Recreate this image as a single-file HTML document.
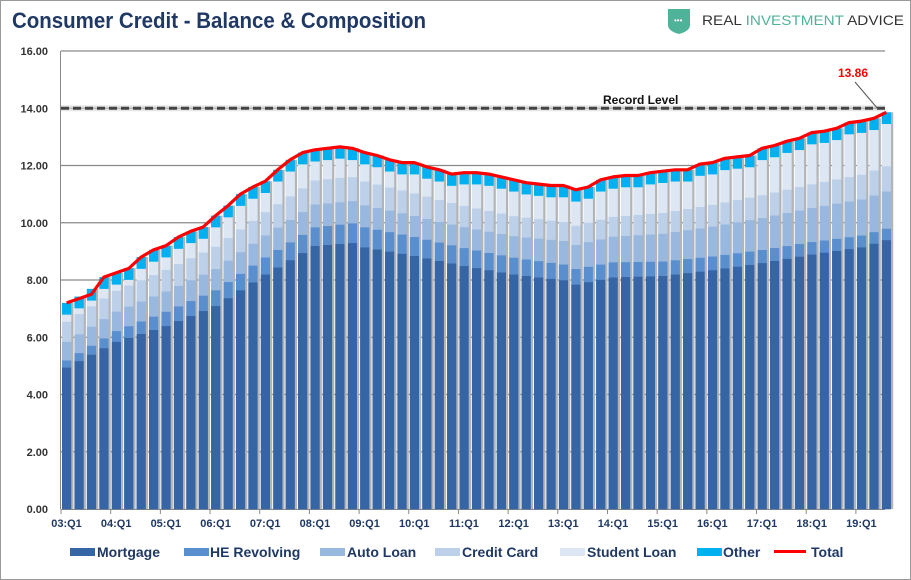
<!DOCTYPE html>
<html><head><meta charset="utf-8"><style>
body{margin:0;background:#fff}
svg{display:block;font-family:"Liberation Sans",sans-serif}
</style></head><body>
<svg id="c" width="911" height="580" xmlns="http://www.w3.org/2000/svg">
<rect x="0.5" y="0.5" width="910" height="579" fill="#fff" stroke="#999"/>
<text x="12" y="28" font-size="22" font-weight="bold" fill="#1f3864" textLength="414" lengthAdjust="spacingAndGlyphs">Consumer Credit - Balance &amp; Composition</text>
<path d="M668 9 L690 9 L690 25 Q690 31 679 34 Q668 31 668 25 Z" fill="#4fb39a"/>
<text x="674" y="23" font-size="8" fill="#fff">•••</text>
<text x="702" y="25" font-size="14" fill="#333" textLength="202" lengthAdjust="spacingAndGlyphs">REAL <tspan fill="#4fb39a">INVESTMENT</tspan> ADVICE</text>
<g id="grid"></g>
<g id="bars"></g>
<g id="ov"></g>
</svg>
<script>
const NS="http://www.w3.org/2000/svg";
function el(p,t,a,txt){const e=document.createElementNS(NS,t);for(const k in a)e.setAttribute(k,a[k]);if(txt!==undefined)e.textContent=txt;p.appendChild(e);return e;}
const y0=509,sc=28.625,X0=61,q=12.42;
const Y=v=>y0-v*sc;
const grid=document.getElementById('grid'),bars=document.getElementById('bars'),ov=document.getElementById('ov');
el(grid,'line',{x1:60.5,y1:51,x2:60.5,y2:509,stroke:'#888'});
for(let v=0;v<=16;v+=2){
 if(v>0)el(grid,'line',{x1:61,y1:Y(v),x2:885,y2:Y(v),stroke:'#8a8a8a','stroke-width':1.3});
 el(grid,'text',{x:48,y:Y(v)+4,'font-size':11,'font-weight':'bold','text-anchor':'end',fill:'#333'},v.toFixed(2));
}
el(grid,'line',{x1:61,y1:509.5,x2:885,y2:509.5,stroke:'#888'});
const tot=[7.2,7.35,7.5,8.1,8.25,8.4,8.8,9.05,9.2,9.5,9.7,9.85,10.25,10.6,11.0,11.25,11.45,11.85,12.2,12.45,12.55,12.6,12.65,12.6,12.45,12.35,12.2,12.1,12.1,11.95,11.85,11.7,11.75,11.75,11.7,11.6,11.5,11.4,11.35,11.3,11.3,11.15,11.25,11.5,11.6,11.65,11.65,11.75,11.8,11.85,11.85,12.05,12.1,12.25,12.3,12.35,12.6,12.7,12.85,12.95,13.15,13.2,13.3,13.5,13.55,13.65,13.86];
function interp(k){return i=>{for(let j=0;j<k.length-1;j++){if(i>=k[j][0]&&i<=k[j+1][0]){const t=(i-k[j][0])/(k[j+1][0]-k[j][0]);return k[j][1]+t*(k[j+1][1]-k[j][1]);}}return k[k.length-1][1];};}
const mort=interp([[0,4.95],[4,5.85],[8,6.4],[12,7.1],[16,8.2],[20,9.2],[23,9.3],[24,9.15],[28,8.85],[32,8.5],[36,8.2],[40,8.0],[41,7.85],[44,8.1],[48,8.15],[52,8.35],[56,8.6],[60,8.9],[64,9.15],[66,9.4]]);
const he=interp([[0,0.25],[8,0.5],[16,0.6],[24,0.7],[40,0.55],[66,0.4]]);
const auto=interp([[0,0.65],[20,0.8],[30,0.72],[36,0.75],[66,1.3]]);
const cc=interp([[0,0.7],[22,0.85],[40,0.66],[66,0.88]]);
const cols=['#3565a5','#5a8fcf','#98b8e0','#bcd0ea','#dde7f4','#00b0f0'];
const pts=[];
for(let i=0;i<67;i++){
 const x=X0+i*q;
 const o=0.4;
 const v=[mort(i),he(i),auto(i),cc(i)];
 let s=v.reduce((a,b)=>a+b,0);
 v.push(Math.max(0.2,tot[i]-o-s));
 v.push(o);
 const T=v.reduce((a,b)=>a+b,0);
 el(bars,'rect',{x:x+9.5,y:Y(T),width:3,height:Y(0)-Y(T),fill:'#b4b4b4'});
 let c=0;
 v.forEach((val,k)=>{el(bars,'rect',{x:x+1,y:Y(c+val),width:9.3,height:val*sc+0.3,fill:cols[k]});c+=val;});
 pts.push((x+5.6).toFixed(1)+','+Y(tot[i]).toFixed(1));
 if(i%4==0){
  el(grid,'line',{x1:x,y1:509,x2:x,y2:514,stroke:'#888'});
  const yy=(3+i/4)%100;
  el(grid,'text',{x:x+5.5,y:527,'font-size':11,'font-weight':'bold','text-anchor':'middle',fill:'#1f3864'},(yy<10?'0':'')+yy+':Q1');
 }
}
el(ov,'line',{x1:61,y1:Y(14),x2:885,y2:Y(14),stroke:'#ccc','stroke-width':6,opacity:0.5});
el(ov,'line',{x1:61,y1:Y(14),x2:885,y2:Y(14),stroke:'#444','stroke-width':3,'stroke-dasharray':'8,4'});
el(ov,'text',{x:603,y:104,'font-size':12,'font-weight':'bold',fill:'#111'},'Record Level');
el(ov,'polyline',{points:pts.join(' '),fill:'none',stroke:'#f00','stroke-width':3.2,'stroke-linejoin':'round'});
el(ov,'line',{x1:855,y1:82,x2:878,y2:109,stroke:'#555','stroke-width':1});
el(ov,'text',{x:838,y:77,'font-size':12,'font-weight':'bold',fill:'#f00'},'13.86');
const leg=[['Mortgage',70,97],['HE Revolving',184,210],['Auto Loan',320,347],['Credit Card',435,462],['Student Loan',560,587],['Other',697,723]];
leg.forEach((l,k)=>{el(ov,'rect',{x:l[1],y:548,width:25,height:8,fill:cols[k]});el(ov,'text',{x:l[2],y:557,'font-size':14,'font-weight':'bold',fill:'#1f3864'},l[0]);});
el(ov,'line',{x1:774,y1:551.5,x2:806,y2:551.5,stroke:'#f00','stroke-width':3});
el(ov,'text',{x:811,y:557,'font-size':14,'font-weight':'bold',fill:'#1f3864'},'Total');
</script>
</body></html>
